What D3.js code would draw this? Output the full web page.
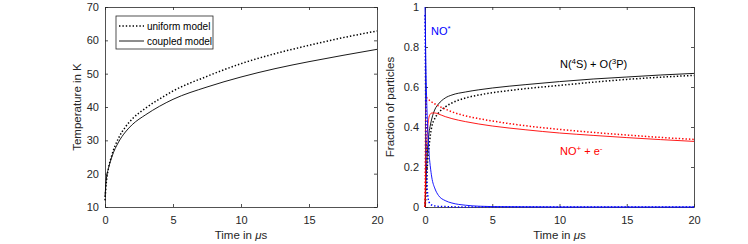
<html>
<head>
<script src="https://cdn.jsdelivr.net/npm/d3@7"></script>
<style>
  body { margin: 0; background: #fff; }
  text { font-family: "Liberation Sans", Arial, sans-serif; fill: #262626; }
</style>
</head>
<body>
<svg id="svg" width="748" height="244"></svg>
<script>
// left panel: temperature
var tTemp = [0, 0.1, 0.25, 0.5, 1, 1.5, 2, 3, 4, 5, 7.5, 10, 12.5, 15, 17.5, 20];
var tempUniform = [12, 17.5, 21.5, 25.5, 30.7, 34, 36.4, 39.7, 42.4, 44.8, 49.2, 53, 56, 58.5, 60.8, 62.8];
var tempCoupled = [13, 18.5, 21.5, 25, 29.5, 32.5, 34.7, 37.7, 40.2, 42.3, 46, 49, 51.5, 53.6, 55.5, 57.3];

// right panel: fractions
var tFrac = [0, 0.03, 0.06, 0.1, 0.15, 0.2, 0.3, 0.4, 0.5, 0.75, 1, 1.5, 2, 3, 4, 5, 7.5, 10, 12.5, 15, 17.5, 20];
var noStarCoupled = [1, 0.88, 0.74, 0.6, 0.48, 0.4, 0.27, 0.2, 0.15, 0.09, 0.058, 0.032, 0.02, 0.009, 0.004, 0.002, 0.001, 0, 0, 0, 0, 0];
var noStarUniform = [0.96, 0.7, 0.45, 0.25, 0.12, 0.06, 0.025, 0.015, 0.01, 0.005, 0.003, 0.002, 0.001, 0, 0, 0, 0, 0, 0, 0, 0, 0];
var ionCoupled = [0, 0.1, 0.19, 0.28, 0.35, 0.4, 0.45, 0.465, 0.47, 0.47, 0.465, 0.452, 0.442, 0.427, 0.415, 0.405, 0.386, 0.37, 0.358, 0.347, 0.337, 0.328];
var ionUniform = [0, 0.3, 0.48, 0.545, 0.545, 0.54, 0.535, 0.53, 0.525, 0.515, 0.505, 0.49, 0.476, 0.456, 0.442, 0.43, 0.406, 0.388, 0.373, 0.36, 0.348, 0.338];
var atomCoupled = [0, 0.05, 0.1, 0.17, 0.24, 0.3, 0.37, 0.41, 0.44, 0.49, 0.515, 0.545, 0.56, 0.575, 0.586, 0.595, 0.612, 0.627, 0.64, 0.65, 0.66, 0.668];
var atomUniform = [0, 0.02, 0.05, 0.1, 0.17, 0.23, 0.3, 0.36, 0.4, 0.445, 0.47, 0.5, 0.52, 0.545, 0.56, 0.571, 0.592, 0.608, 0.624, 0.638, 0.649, 0.658];

var xTicks = [0, 5, 10, 15, 20];
var tempTicks = [10, 20, 30, 40, 50, 60, 70];
var fracTicks = [0, 0.2, 0.4, 0.6, 0.8, 1];

var svg = d3.select('#svg');
var plotTop = 7, plotBottom = 207;

function zip(xs, ys) { return xs.map(function(x, i) { return [x, ys[i]]; }); }

function panel(left, right, yDomain, yTicks, yFmt, yLabel, labelOff) {
    var x = d3.scaleLinear().domain([0, 20]).range([left, right]);
    var y = d3.scaleLinear().domain(yDomain).range([plotBottom, plotTop]);
    var g = svg.append('g');

    g.append('g').attr('transform', 'translate(0,' + plotBottom + ')')
        .call(d3.axisBottom(x).tickValues(xTicks).tickSizeInner(-3).tickSizeOuter(0).tickPadding(9));
    g.append('g').attr('transform', 'translate(0,' + plotTop + ')')
        .call(d3.axisTop(x).tickValues(xTicks).tickSizeInner(-3).tickSizeOuter(0).tickFormat(''));
    g.append('g').attr('transform', 'translate(' + left + ',0)')
        .call(d3.axisLeft(y).tickValues(yTicks).tickSizeInner(-3).tickSizeOuter(0).tickPadding(6).tickFormat(yFmt));
    g.append('g').attr('transform', 'translate(' + right + ',0)')
        .call(d3.axisRight(y).tickValues(yTicks).tickSizeInner(-3).tickSizeOuter(0).tickFormat(''));

    g.selectAll('.domain').attr('stroke', '#262626').attr('stroke-width', 0.8);
    g.selectAll('.tick line').attr('stroke', '#262626').attr('stroke-width', 0.8);
    g.selectAll('.tick text').style('font-size', '11px').attr('fill', '#262626');

    var xl = g.append('text').attr('x', (left + right) / 2).attr('y', 239)
        .attr('text-anchor', 'middle').style('font-size', '11.5px');
    xl.append('tspan').text('Time in ');
    xl.append('tspan').style('font-style', 'italic').text('\u03bc');
    xl.append('tspan').text('s');

    g.append('text').attr('transform', 'translate(' + (left - labelOff) + ',' + ((plotTop + plotBottom) / 2) + ') rotate(-90)')
        .attr('text-anchor', 'middle').style('font-size', '11.5px').text(yLabel);

    return { x: x, y: y, g: g };
}

function curve(p, xs, ys, color, dotted) {
    var line = d3.line().x(function(d) { return p.x(d[0]); }).y(function(d) { return p.y(d[1]); })
        .curve(d3.curveMonotoneX);
    p.g.append('path').datum(zip(xs, ys))
        .attr('d', line)
        .attr('fill', 'none')
        .attr('stroke', color)
        .attr('stroke-width', dotted ? 1.5 : 0.9)
        .attr('stroke-dasharray', dotted ? '1.4,2' : null);
}

// LEFT ------------------------------------------------------------------
var pl = panel(105, 377, [10, 70], tempTicks, d3.format('d'), 'Temperature in K', 24);
curve(pl, tTemp, tempUniform, '#000', true);
curve(pl, tTemp, tempCoupled, '#000', false);

var leg = pl.g.append('g');
leg.append('rect').attr('x', 116).attr('y', 16).attr('width', 97).attr('height', 33)
    .attr('fill', '#fff').attr('stroke', '#262626').attr('stroke-width', 0.8);
leg.append('line').attr('x1', 119).attr('x2', 144).attr('y1', 26).attr('y2', 26)
    .attr('stroke', '#000').attr('stroke-width', 1.5).attr('stroke-dasharray', '1.4,2');
leg.append('line').attr('x1', 119).attr('x2', 144).attr('y1', 41).attr('y2', 41)
    .attr('stroke', '#000').attr('stroke-width', 0.9);
leg.append('text').attr('x', 147).attr('y', 29.5).style('font-size', '10px').style('fill', '#000').text('uniform model');
leg.append('text').attr('x', 147).attr('y', 44.5).style('font-size', '10px').style('fill', '#000').text('coupled model');

// RIGHT -----------------------------------------------------------------
var pr = panel(425, 694, [0, 1], fracTicks, function(d) { return d3.format('~g')(d); }, 'Fraction of particles', 31);
curve(pr, tFrac, atomUniform, '#000', true);
curve(pr, tFrac, atomCoupled, '#000', false);
curve(pr, tFrac, ionUniform, '#ff0000', true);
curve(pr, tFrac, ionCoupled, '#ff0000', false);
curve(pr, tFrac, noStarUniform, '#0000ff', true);
curve(pr, tFrac, noStarCoupled, '#0000ff', false);

var t1 = pr.g.append('text').attr('x', 431).attr('y', 35).style('font-size', '11px').style('fill', '#0000ff');
t1.append('tspan').text('NO');
t1.append('tspan').attr('dy', -4).style('font-size', '8px').text('*');

var t2 = pr.g.append('text').attr('x', 560).attr('y', 68).style('font-size', '11px').style('fill', '#000');
t2.append('tspan').text('N(');
t2.append('tspan').attr('dy', -4).style('font-size', '8px').text('4');
t2.append('tspan').attr('dy', 4).text('S) + O(');
t2.append('tspan').attr('dy', -4).style('font-size', '8px').text('3');
t2.append('tspan').attr('dy', 4).text('P)');

var t3 = pr.g.append('text').attr('x', 560).attr('y', 155).style('font-size', '11px').style('fill', '#ff0000');
t3.append('tspan').text('NO');
t3.append('tspan').attr('dy', -4).style('font-size', '8px').text('+');
t3.append('tspan').attr('dy', 4).text(' + e');
t3.append('tspan').attr('dy', -4).style('font-size', '8px').text('-');
</script>
</body>
</html>
